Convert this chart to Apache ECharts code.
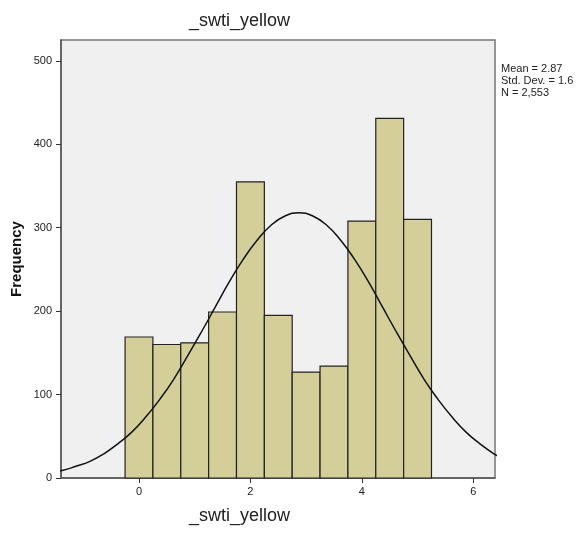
<!DOCTYPE html>
<html>
<head>
<meta charset="utf-8">
<script src="https://cdn.jsdelivr.net/npm/echarts@6/dist/echarts.min.js"></script>
<style>
  html, body { margin: 0; padding: 0; background: #fff; }
  #chart { width: 582px; height: 533px; }
</style>
</head>
<body>
<div id="chart"></div>
<script>
// histogram bins (center of each 0.5 wide bin) and counts
const binCenters = [0, 0.5, 1, 1.5, 2, 2.5, 3, 3.5, 4, 4.5, 5];
const counts = [169, 160, 162, 199, 355, 195, 127, 134, 308, 431, 310];
const binWidth = 0.5;

const curveX = [-1.63, -1.38, -1.13, -0.88, -0.63, -0.38, -0.13, 0.12, 0.37, 0.62, 0.87, 1.12,
  1.37, 1.62, 1.87, 2.12, 2.37, 2.62, 2.87, 3.12, 3.37, 3.62, 3.87, 4.12, 4.37, 4.62, 4.87,
  5.12, 5.37, 5.62, 5.87, 6.12, 6.37, 6.62];
const curveY = [6, 9, 14, 20, 29, 41, 55, 73, 94, 118, 146, 175,
  205, 235, 262, 285, 303, 314, 318, 314, 303, 285, 262, 235, 205, 175, 146,
  118, 94, 73, 55, 41, 29, 20];

const xTicks = [0, 2, 4, 6];
const yTicks = [0, 100, 200, 300, 400, 500];
const stats = ["Mean = 2.87", "Std. Dev. = 1.6", "N = 2,553"];

const FONT = "'Liberation Sans', Arial, sans-serif";
const chart = echarts.init(document.getElementById("chart"));

chart.setOption({
  backgroundColor: "#ffffff",
  animation: false,
  grid: {
    left: 61,
    right: 87,
    top: 40,
    bottom: 55,
    show: true,
    backgroundColor: "#f0f0f0",
    borderColor: "#757575",
    borderWidth: 1.5,
  },
  xAxis: {
    type: "value",
    min: -1.4,
    max: 6.39,
    axisLine: { show: true, onZero: false, lineStyle: { color: "#555", width: 1.5 } },
    axisTick: { show: true, length: 5, customValues: xTicks, lineStyle: { color: "#333" } },
    axisLabel: { customValues: xTicks, margin: 8, color: "#222", fontSize: 11, fontFamily: FONT },
    splitLine: { show: false },
  },
  yAxis: {
    type: "value",
    min: 0,
    max: 525,
    axisLine: { show: true, onZero: false, lineStyle: { color: "#555", width: 1.5 } },
    axisTick: { show: true, length: 5, customValues: yTicks, lineStyle: { color: "#333" } },
    axisLabel: { customValues: yTicks, margin: 9, color: "#222", fontSize: 11, fontFamily: FONT },
    splitLine: { show: false },
  },
  graphic: [
    {
      type: "text", left: 189, top: 12,
      style: { text: "_swti_yellow", fontSize: 18, fontFamily: FONT, fill: "#222" },
    },
    {
      type: "text", left: 189, top: 507,
      style: { text: "_swti_yellow", fontSize: 18, fontFamily: FONT, fill: "#222" },
    },
    {
      type: "text", x: 17, y: 259, rotation: Math.PI / 2,
      style: {
        text: "Frequency", fontSize: 15, fontWeight: "bold", fontFamily: FONT, fill: "#111",
        align: "center", verticalAlign: "middle",
      },
    },
    {
      type: "text", left: 501, top: 63,
      style: { text: stats.join("\n"), fontSize: 11, lineHeight: 12, fontFamily: FONT, fill: "#222" },
    },
  ],
  series: [
    {
      type: "custom",
      data: binCenters.map((c, i) => [c, counts[i]]),
      renderItem: (params, api) => {
        const c = api.value(0);
        const topLeft = api.coord([c - binWidth / 2, api.value(1)]);
        const bottomRight = api.coord([c + binWidth / 2, 0]);
        return {
          type: "rect",
          shape: {
            x: topLeft[0],
            y: topLeft[1],
            width: bottomRight[0] - topLeft[0],
            height: bottomRight[1] - topLeft[1],
          },
          style: { fill: "#d4cf98", stroke: "#222", lineWidth: 1.2 },
        };
      },
      z: 2,
    },
    {
      type: "line",
      data: curveX.map((x, i) => [x, curveY[i]]),
      smooth: true,
      showSymbol: false,
      lineStyle: { color: "#111", width: 1.5 },
      clip: true,
      z: 3,
    },
  ],
});
</script>
</body>
</html>
